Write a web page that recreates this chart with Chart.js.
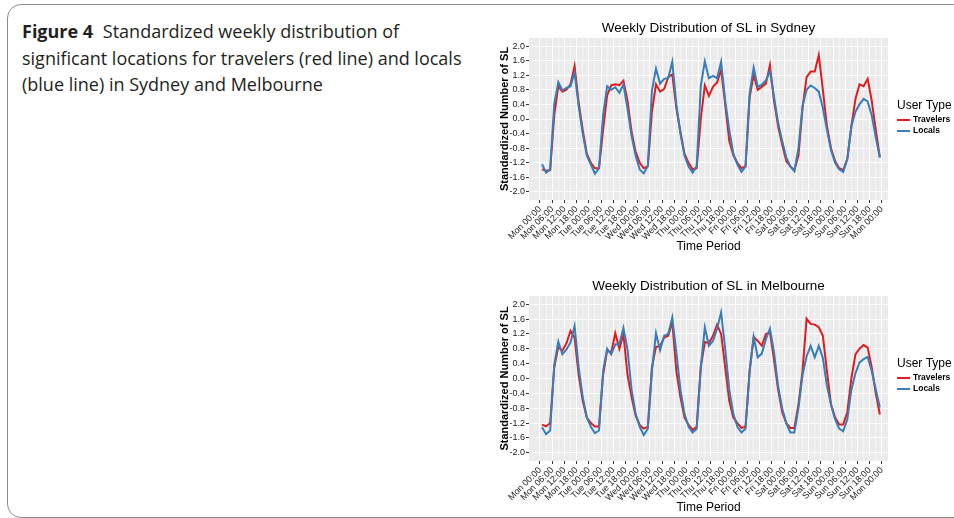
<!DOCTYPE html>
<html>
<head>
<meta charset="utf-8">
<script src="https://cdn.jsdelivr.net/npm/chart.js@4.4.1/dist/chart.umd.min.js"></script>
<style>
  body { margin:0; background:#fff; width:954px; height:518px; position:relative; overflow:hidden; }
  .frame { position:absolute; left:7px; top:4px; width:1000px; height:512px; border:1px solid #8c8c8c; border-radius:14px; }
  .caption { position:absolute; left:22px; top:18px; font-family:"Open Sans", sans-serif; font-size:18px; line-height:26.5px; color:#231f20; }
  .caption b { font-weight:700; margin-right:5px; }
  canvas { position:absolute; }
  #sydney { left:490px; top:12px; }
  #melbourne { left:490px; top:270px; }
</style>
</head>
<body>
<div class="frame"></div>
<div class="caption"><b>Figure 4</b> Standardized weekly distribution of<br>significant locations for travelers (red line) and locals<br>(blue line) in Sydney and Melbourne</div>
<canvas id="sydney" width="464" height="245"></canvas>
<canvas id="melbourne" width="464" height="248"></canvas>
<script>
// x tick labels, one every 6 hours
const xTickLabels = [
  'Mon 00:00','Mon 06:00','Mon 12:00','Mon 18:00',
  'Tue 00:00','Tue 06:00','Tue 12:00','Tue 18:00',
  'Wed 00:00','Wed 06:00','Wed 12:00','Wed 18:00',
  'Thu 00:00','Thu 06:00','Thu 12:00','Thu 18:00',
  'Fri 00:00','Fri 06:00','Fri 12:00','Fri 18:00',
  'Sat 00:00','Sat 06:00','Sat 12:00','Sat 18:00',
  'Sun 00:00','Sun 06:00','Sun 12:00','Sun 18:00',
  'Mon 00:00'
];
const yTickLabels = ['2.0','1.6','1.2','0.8','0.4','0.0','-0.4','-0.8','-1.2','-1.6','-2.0'];

// 2-hour bins (01:00, 03:00, ... 23:00), 12 per day, Mon..Sun
const sydTravelers = [
  -1.38,-1.42,-1.40, 0.10, 0.90, 0.75, 0.80, 0.95, 1.45, 0.45,-0.30,-0.95,
  -1.20,-1.35,-1.35,-0.30, 0.65, 0.92, 0.95, 0.93, 1.05, 0.50,-0.35,-0.90,
  -1.20,-1.35,-1.30, 0.20, 0.95, 0.75, 0.82, 1.15, 1.22, 0.30,-0.35,-0.95,
  -1.20,-1.38,-1.35, 0.00, 0.92, 0.63, 0.88, 1.00, 1.35, 0.40,-0.60,-1.00,
  -1.20,-1.35,-1.30, 0.60, 1.20, 0.80, 0.88, 0.97, 1.48, 0.50,-0.20,-0.70,
  -1.15,-1.30,-1.40,-1.00, 0.30, 1.15, 1.30, 1.30, 1.75, 0.80,-0.20,-0.80,
  -1.15,-1.35,-1.40,-1.10,-0.20, 0.55, 0.95, 0.90, 1.10, 0.50,-0.30,-1.05
];
const sydLocals = [
  -1.24,-1.47,-1.38, 0.41, 1.01, 0.78, 0.85, 0.90, 1.27, 0.35,-0.40,-1.00,
  -1.25,-1.50,-1.35, 0.10, 0.90, 0.80, 0.87, 0.72, 0.95, 0.28,-0.46,-1.01,
  -1.38,-1.49,-1.29, 0.78, 1.38, 0.97, 1.10, 1.12, 1.57, 0.40,-0.40,-1.00,
  -1.30,-1.47,-1.29, 0.90, 1.58, 1.12, 1.18, 1.12, 1.57, 0.50,-0.30,-0.95,
  -1.25,-1.45,-1.30, 0.70, 1.41, 0.88, 0.94, 1.06, 1.31, 0.60,-0.10,-0.60,
  -1.05,-1.30,-1.43,-0.80, 0.35, 0.80, 0.92, 0.85, 0.75, 0.30,-0.30,-0.85,
  -1.20,-1.38,-1.45,-1.10,-0.20, 0.20, 0.40, 0.55, 0.48, 0.10,-0.50,-1.05
];
const melTravelers = [
  -1.24,-1.29,-1.20, 0.30, 0.85, 0.75, 0.95, 1.28, 1.10, 0.10,-0.60,-1.05,
  -1.20,-1.29,-1.29, 0.10, 0.75, 0.70, 1.22, 0.80, 1.20, 0.10,-0.50,-1.00,
  -1.25,-1.35,-1.30, 0.30, 0.85, 0.87, 1.10, 1.15, 1.52, 0.20,-0.50,-1.05,
  -1.25,-1.38,-1.30, 0.30, 0.98, 0.95, 1.15, 1.45, 1.20, 0.30,-0.60,-1.05,
  -1.20,-1.33,-1.30, 0.20, 1.12, 1.01, 0.88, 1.20, 1.24, 0.50,-0.30,-0.90,
  -1.20,-1.33,-1.33,-0.70, 0.20, 1.61, 1.47, 1.45, 1.38, 1.15, 0.20,-0.70,
  -1.05,-1.24,-1.24,-0.90, 0.00, 0.65, 0.80, 0.90, 0.83, 0.30,-0.40,-0.97
];
const melLocals = [
  -1.31,-1.50,-1.40, 0.37, 0.99, 0.65, 0.78, 0.97, 1.41, 0.30,-0.50,-1.05,
  -1.30,-1.47,-1.40, 0.20, 0.80, 0.65, 0.92, 0.92, 1.36, 0.78,-0.30,-0.95,
  -1.30,-1.52,-1.35, 0.20, 1.22, 0.76, 1.15, 1.20, 1.64, 0.70,-0.30,-0.95,
  -1.30,-1.45,-1.35, 0.30, 1.38, 0.88, 1.01, 1.34, 1.78, 0.80,-0.30,-0.95,
  -1.30,-1.45,-1.35, 0.20, 1.12, 0.57, 0.67, 1.06, 1.34, 0.70,-0.20,-0.80,
  -1.20,-1.45,-1.45,-0.80, 0.10, 0.60, 0.88, 0.57, 0.88, 0.55,-0.20,-0.70,
  -1.10,-1.35,-1.42,-1.10,-0.30, 0.14, 0.43, 0.52, 0.58, 0.20,-0.30,-0.78
];

const RED = '#E41A1C', BLUE = '#377EB8';
const FONT = '"Liberation Sans", Arial, sans-serif';

// bin centre in hours since Monday 00:00
const toPoints = vals => vals.map((v, i) => ({ x: i * 2 + 1, y: v }));

// grey ggplot panel, title on top, legend on the right
const ggPlugin = {
  id: 'gg',
  beforeDraw(chart) {
    const { ctx, chartArea: a } = chart;
    ctx.save();
    ctx.fillStyle = '#EBEBEB';
    ctx.fillRect(a.left, a.top, a.right - a.left, a.bottom - a.top);
    ctx.restore();
  },
  afterDraw(chart, args, opts) {
    const { ctx, chartArea: a } = chart;
    ctx.save();
    ctx.fillStyle = '#000';
    ctx.textAlign = 'center';
    ctx.textBaseline = 'middle';
    ctx.font = '13.5px ' + FONT;
    ctx.fillText(opts.title, (a.left + a.right) / 2, 16);

    const lx = a.right + 9;
    ctx.textAlign = 'left';
    ctx.font = '12px ' + FONT;
    ctx.fillText('User Type', lx, 94);
    ctx.font = 'bold 8.5px ' + FONT;
    chart.data.datasets.forEach((ds, i) => {
      const y = 108 + i * 11;
      ctx.strokeStyle = ds.borderColor;
      ctx.lineWidth = 2;
      ctx.beginPath();
      ctx.moveTo(lx, y);
      ctx.lineTo(lx + 13, y);
      ctx.stroke();
      ctx.fillText(ds.label, lx + 16, y);
    });
    ctx.restore();
  }
};

function makeChart(id, title, travelers, locals) {
  return new Chart(document.getElementById(id), {
    type: 'line',
    data: {
      datasets: [
        { label: 'Travelers', data: toPoints(travelers), borderColor: RED, borderWidth: 2, pointRadius: 0, order: 1 },
        { label: 'Locals', data: toPoints(locals), borderColor: BLUE, borderWidth: 2, pointRadius: 0, order: 0 }
      ]
    },
    plugins: [ggPlugin],
    options: {
      responsive: false,
      animation: false,
      layout: { padding: { left: 8, right: 66, top: 26, bottom: 0 } },
      plugins: { legend: { display: false }, tooltip: { enabled: false }, gg: { title } },
      scales: {
        x: {
          type: 'linear', min: -5.4, max: 171,
          afterBuildTicks: s => {
            const t = [];
            for (let h = 0; h <= 168; h += 3) t.push({ value: h });
            s.ticks = t;
          },
          afterFit: s => { s.height = 57; },
          border: { display: false },
          grid: {
            color: '#fff',
            lineWidth: c => (c.tick && c.tick.value % 6 === 0) ? 1 : 0.5,
            tickLength: 3,
            tickColor: c => (c.tick && c.tick.value % 6 === 0) ? '#333' : 'rgba(0,0,0,0)'
          },
          ticks: {
            autoSkip: false, maxRotation: 45, minRotation: 45, padding: 1,
            color: '#222', font: { family: FONT, size: 9 },
            callback: v => v % 6 === 0 ? xTickLabels[v / 6] : ''
          },
          title: { display: true, text: 'Time Period', color: '#000', font: { family: FONT, size: 12 }, padding: { top: 0, bottom: 3 } }
        },
        y: {
          min: -2.22, max: 2.22,
          afterBuildTicks: s => {
            const t = [];
            yTickLabels.forEach((lab, i) => {
              const v = parseFloat(lab);
              t.push({ value: v, major: true });
              if (i < yTickLabels.length - 1) t.push({ value: (v + parseFloat(yTickLabels[i + 1])) / 2 });
            });
            s.ticks = t;
          },
          afterFit: s => { s.width = 31; },
          border: { display: false },
          grid: {
            color: '#fff',
            lineWidth: c => (c.tick && c.tick.major) ? 1 : 0.5,
            tickLength: 3,
            tickColor: c => (c.tick && c.tick.major) ? '#333' : 'rgba(0,0,0,0)'
          },
          ticks: {
            padding: 1, color: '#222', font: { family: FONT, size: 9 },
            callback: function (v, i, ticks) { return ticks[i].major ? v.toFixed(1) : ''; }
          },
          title: { display: true, text: 'Standardized Number of SL', color: '#000', font: { family: FONT, size: 11, weight: 'bold' }, padding: { top: 0, bottom: 2 } }
        }
      }
    }
  });
}

makeChart('sydney', 'Weekly Distribution of SL in Sydney', sydTravelers, sydLocals);
makeChart('melbourne', 'Weekly Distribution of SL in Melbourne', melTravelers, melLocals);
</script>
</body>
</html>
